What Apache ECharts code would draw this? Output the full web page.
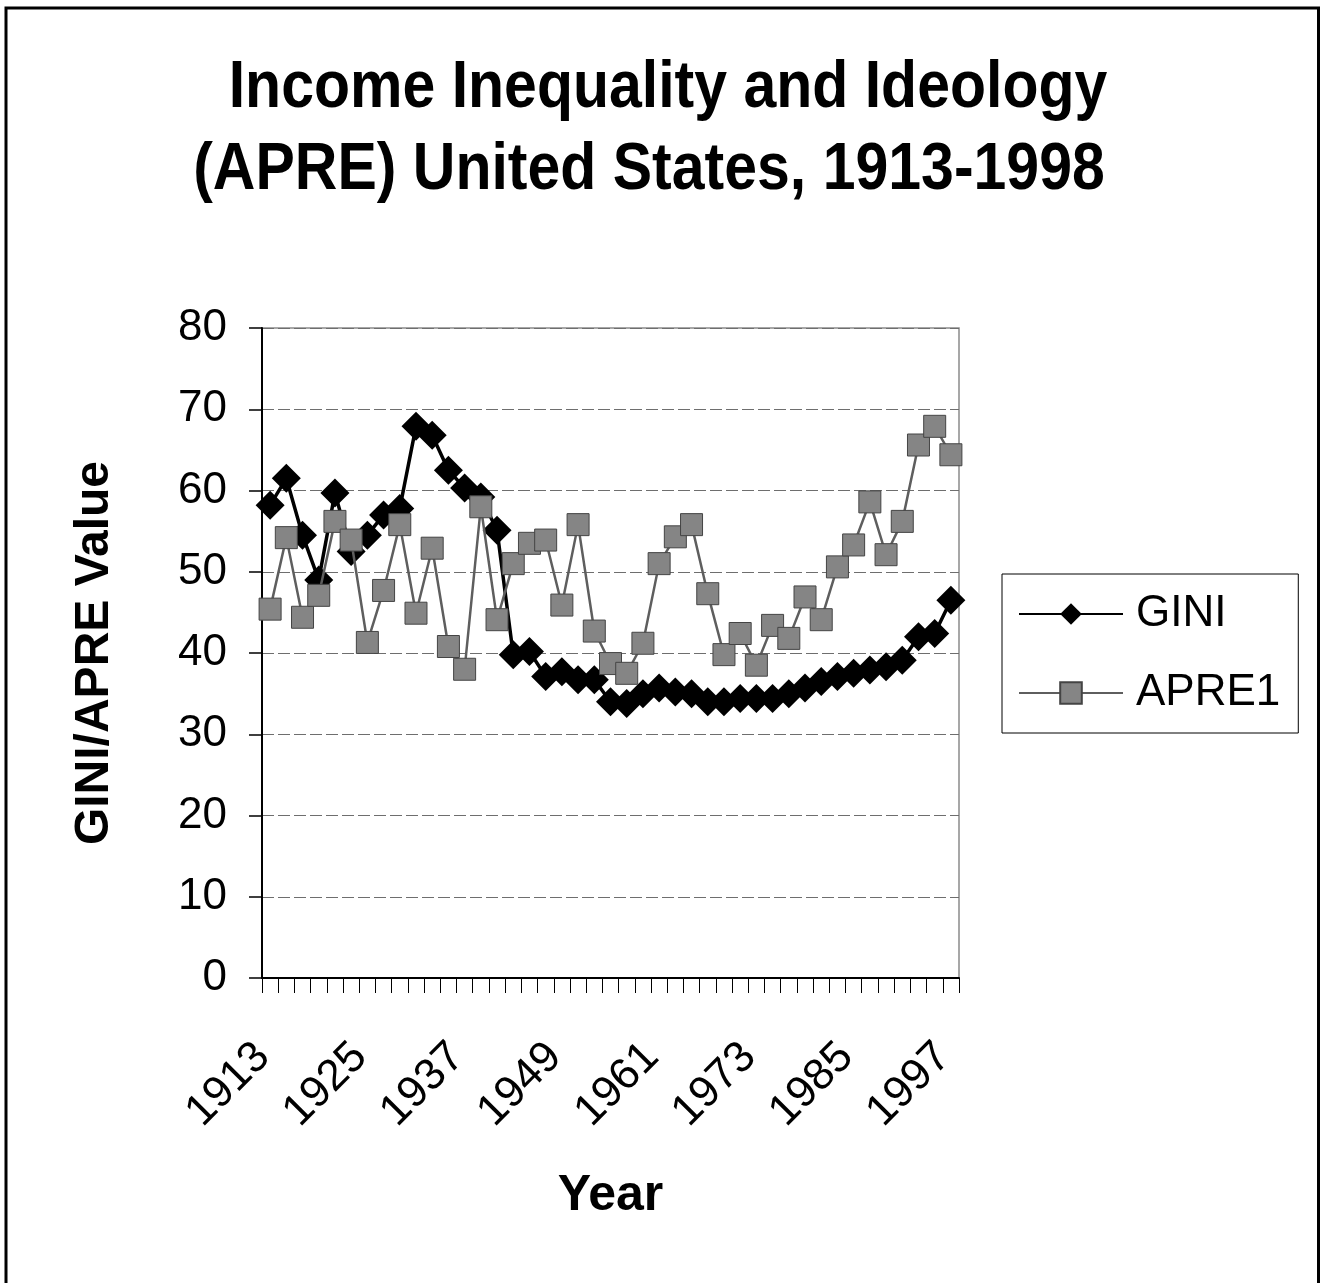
<!DOCTYPE html>
<html>
<head>
<meta charset="utf-8">
<title>Income Inequality and Ideology (APRE) United States, 1913-1998</title>
<script src="https://cdn.jsdelivr.net/npm/echarts@6/dist/echarts.min.js"></script>
<style>
  html, body { margin: 0; padding: 0; background: #fff; }
  #chart { width: 1330px; height: 1283px; }
</style>
</head>
<body>
<div id="chart"></div>
<script>
// Biennial observations, 1913 through 1997
const years = [
  '1913', '1915', '1917', '1919', '1921', '1923', '1925', '1927', '1929', '1931',
  '1933', '1935', '1937', '1939', '1941', '1943', '1945', '1947', '1949', '1951',
  '1953', '1955', '1957', '1959', '1961', '1963', '1965', '1967', '1969', '1971',
  '1973', '1975', '1977', '1979', '1981', '1983', '1985', '1987', '1989', '1991',
  '1993', '1995', '1997'
];

// Income inequality (Gini index)
const gini = [
  58.2, 61.5, 54.5, 49.0, 59.7, 52.5, 54.5, 57.0, 57.8, 67.9,
  66.8, 62.5, 60.3, 59.2, 55.1, 39.8, 40.2, 37.1, 37.7, 36.7,
  36.7, 34.0, 33.8, 35.0, 35.7, 35.2, 35.0, 34.0, 34.0, 34.4,
  34.4, 34.4, 35.0, 35.7, 36.5, 37.1, 37.5, 37.9, 38.3, 39.1,
  42.0, 42.4, 46.5
];

// Ideology score (APRE1)
const apre1 = [
  45.4, 54.2, 44.4, 47.1, 56.2, 53.9, 41.3, 47.7, 55.8, 44.9,
  52.9, 40.8, 38.0, 58.0, 44.1, 51.0, 53.5, 53.9, 45.9, 55.8,
  42.7, 38.7, 37.5, 41.2, 51.0, 54.3, 55.8, 47.3, 39.8, 42.4,
  38.5, 43.4, 41.8, 46.9, 44.1, 50.6, 53.3, 58.6, 52.1, 56.2,
  65.6, 67.9, 64.4
];

const titleLines = ['Income Inequality and Ideology', '(APRE) United States, 1913-1998'];

const FONT = '"Liberation Sans", Arial, Helvetica, sans-serif';

const chart = echarts.init(document.getElementById('chart'), null, { renderer: 'canvas' });

chart.setOption({
  backgroundColor: '#ffffff',
  animation: false,
  textStyle: { fontFamily: FONT, color: '#000' },
  graphic: [
    {
      type: 'rect',
      silent: true,
      shape: { x: 6, y: 8, width: 1312.5, height: 1290 },
      style: { fill: 'none', stroke: '#000', lineWidth: 3 }
    },
    {
      type: 'text',
      silent: true,
      x: 668, y: 89, scaleY: 1.12,
      style: {
        text: titleLines[0], x: 0, y: 0,
        align: 'center', verticalAlign: 'middle',
        font: 'bold 59px ' + FONT, fill: '#000'
      }
    },
    {
      type: 'text',
      silent: true,
      x: 649, y: 171, scaleY: 1.12,
      style: {
        text: titleLines[1], x: 0, y: 0,
        align: 'center', verticalAlign: 'middle',
        font: 'bold 59px ' + FONT, fill: '#000'
      }
    }
  ],
  grid: {
    left: 262, top: 328, width: 697, height: 650,
    show: true, borderColor: '#8a8a8a', borderWidth: 1.5,
    containLabel: false
  },
  legend: {
    orient: 'vertical',
    left: 1002, top: 574,
    padding: [15, 18, 15, 16],
    itemGap: 29,
    itemWidth: 104,
    itemHeight: 27,
    borderColor: '#000',
    borderWidth: 1,
    backgroundColor: '#fff',
    textStyle: { fontSize: 44, fontFamily: FONT, color: '#000', lineHeight: 50, padding: [0, 0, 0, 8] },
    data: ['GINI', 'APRE1']
  },
  xAxis: {
    type: 'category',
    data: years,
    boundaryGap: true,
    name: 'Year',
    nameLocation: 'middle',
    nameGap: 193,
    nameTextStyle: { fontSize: 50, fontWeight: 'bold', fontFamily: FONT, color: '#000' },
    axisLine: { lineStyle: { color: '#000', width: 2 } },
    axisTick: { show: true, interval: 0, length: 15, lineStyle: { color: '#000', width: 1 } },
    axisLabel: {
      interval: 5, rotate: 45, margin: 65,
      padding: [0, 10, 0, 0],
      fontSize: 44, fontFamily: FONT, color: '#000'
    },
    splitLine: { show: false }
  },
  yAxis: {
    type: 'value',
    min: 0, max: 80, interval: 10,
    name: 'GINI/APRE Value',
    nameLocation: 'middle',
    nameGap: 143,
    nameTextStyle: { fontSize: 48, fontWeight: 'bold', fontFamily: FONT, color: '#000' },
    axisLine: { show: true, lineStyle: { color: '#000', width: 2 } },
    axisTick: { show: true, length: 13, lineStyle: { color: '#000', width: 1.5 } },
    axisLabel: { margin: 35, fontSize: 44, fontFamily: FONT, color: '#000' },
    splitLine: { show: true, lineStyle: { color: '#6e6e6e', width: 1, type: [12, 4] } }
  },
  series: [
    {
      name: 'GINI',
      type: 'line',
      data: gini,
      symbol: 'diamond',
      symbolSize: 29,
      showAllSymbol: true,
      lineStyle: { color: '#000', width: 3.5 },
      itemStyle: { color: '#000', borderColor: '#000', borderWidth: 0 },
      z: 2
    },
    {
      name: 'APRE1',
      type: 'line',
      data: apre1,
      symbol: 'rect',
      symbolSize: 22,
      showAllSymbol: true,
      lineStyle: { color: '#5e5e5e', width: 2.5 },
      itemStyle: { color: '#858585', borderColor: '#444', borderWidth: 1 },
      z: 3
    }
  ]
});
</script>
</body>
</html>
